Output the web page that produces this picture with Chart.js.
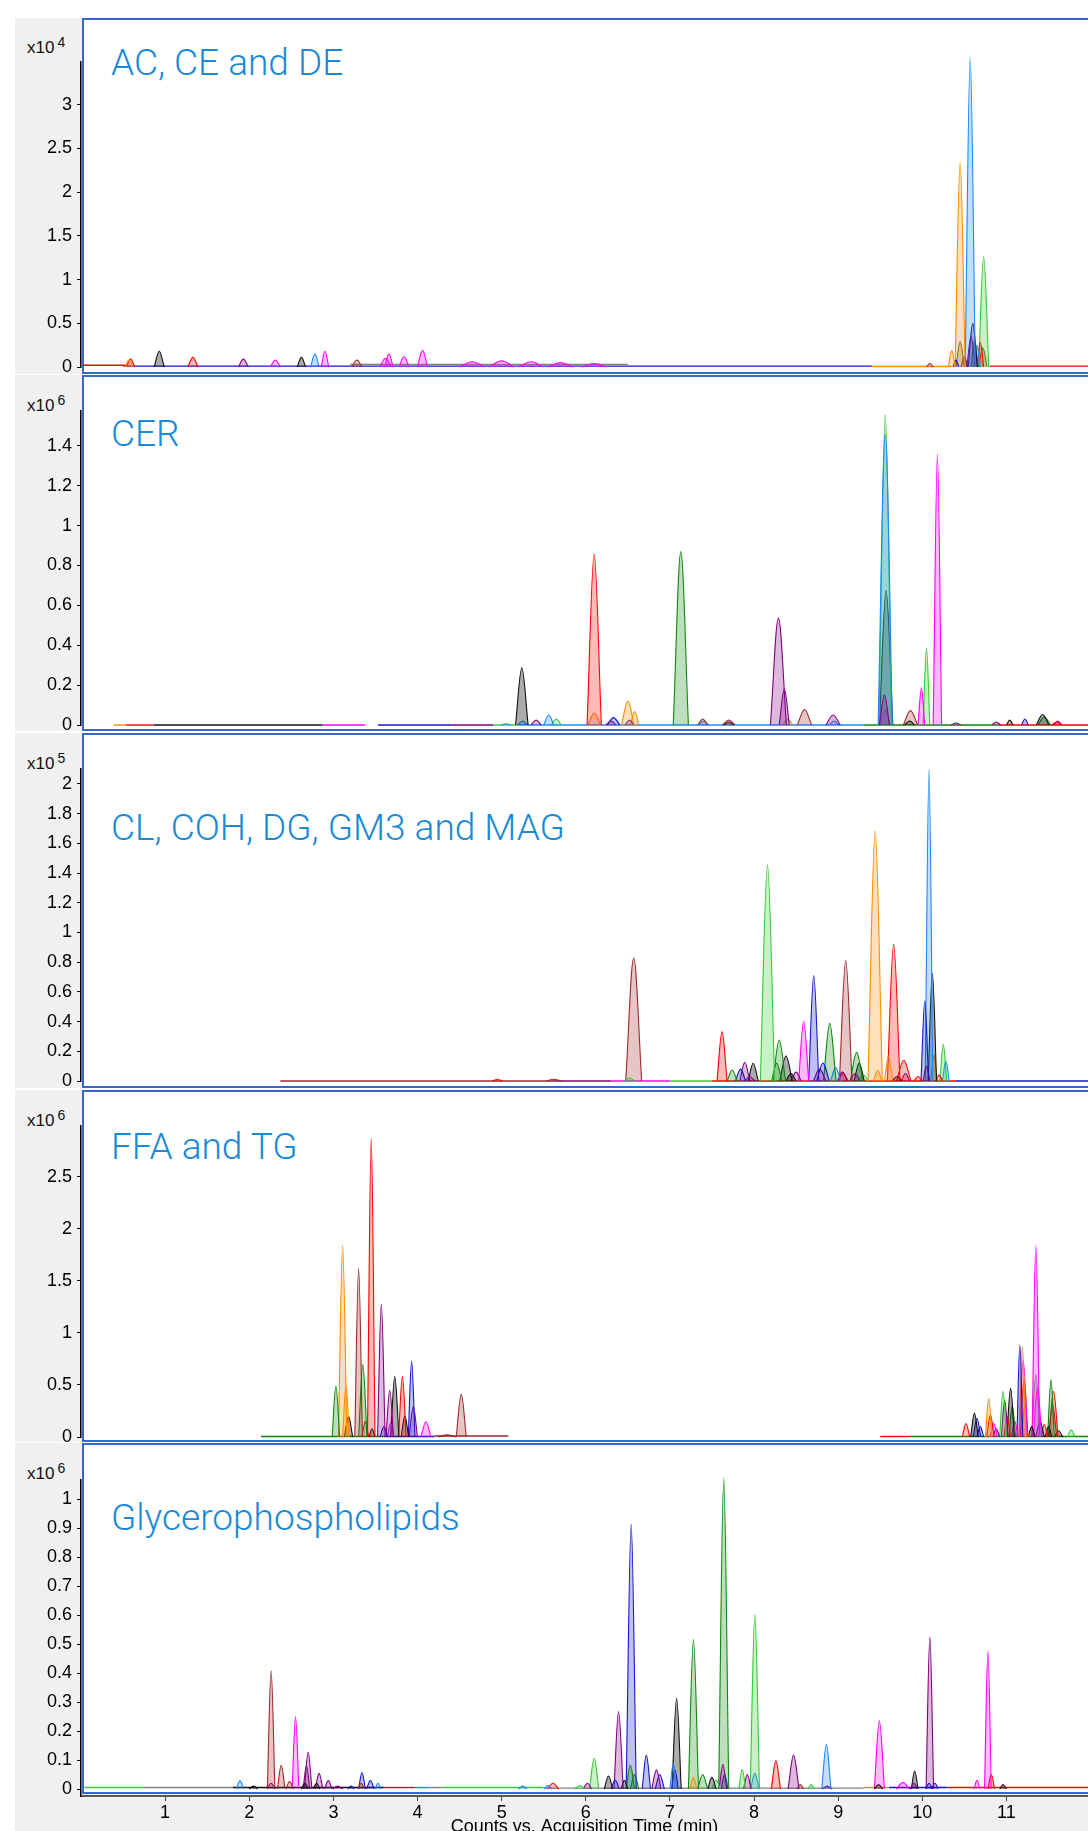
<!DOCTYPE html>
<html>
<head>
<meta charset="utf-8">
<title>Lipid class chromatograms</title>
<script src="https://cdn.jsdelivr.net/npm/chart.js@4.4.1/dist/chart.umd.min.js"></script>
<style>
  html, body { margin: 0; padding: 0; background: #fff; }
  body { position: relative; width: 1088px; height: 1831px; overflow: hidden; }
  .gray { position: absolute; background: #f0f0f0; }
  .plot { position: absolute; background: #fff; box-sizing: border-box; border: 2px solid #3768c8; border-right: none; }
  .title { position: absolute; left: 111px; font: 300 37px/37px Roboto, sans-serif; color: #1a8ad6; white-space: nowrap; }
  .exp { position: absolute; left: 27px; font: 17px/17px 'Liberation Sans', Arial, sans-serif; color: #111; white-space: nowrap; }
  .exp sup { font-size: 14px; vertical-align: 6px; margin-left: 3px; line-height: 0; }
  canvas { position: absolute; left: 14px; }
</style>
</head>
<body>
<script>
// time axis (min), cut at the right edge of the picture
const timeMax = 11.97;

const panelTitles = ['AC, CE and DE', 'CER', 'CL, COH, DG, GM3 and MAG', 'FFA and TG', 'Glycerophospholipids'];
const panelExp = [4, 6, 5, 6, 6];
const panelMax = [3.49, 1.575, 2.1, 2.99, 1.066];
const panelStep = [0.5, 0.2, 0.2, 0.5, 0.1];

// peaks: [retention time, height, base width, trace]
const acPeaks = [
  [0.57, 0.08, 0.10, 'orange'], [0.59, 0.09, 0.10, 'red'], [0.93, 0.18, 0.12, 'black'],
  [1.33, 0.11, 0.12, 'red'], [1.93, 0.09, 0.12, 'purple'], [2.31, 0.08, 0.12, 'magenta'],
  [2.62, 0.11, 0.10, 'black'], [2.78, 0.15, 0.10, 'lblue'], [2.90, 0.18, 0.09, 'magenta'],
  [3.28, 0.08, 0.12, 'brown'], [3.62, 0.10, 0.14, 'magenta'], [3.66, 0.15, 0.10, 'magenta'],
  [3.84, 0.12, 0.12, 'magenta'], [4.06, 0.19, 0.12, 'magenta'], [4.65, 0.06, 0.30, 'magenta'],
  [5.00, 0.07, 0.30, 'magenta'], [5.35, 0.06, 0.30, 'magenta'], [5.70, 0.05, 0.30, 'magenta'],
  [6.10, 0.04, 0.30, 'magenta'], [10.09, 0.04, 0.08, 'brown'], [10.35, 0.19, 0.08, 'orange'],
  [10.40, 0.08, 0.07, 'blue'], [10.45, 2.34, 0.12, 'orange'], [10.45, 0.29, 0.10, 'olive'],
  [10.50, 0.12, 0.08, 'purple'], [10.57, 3.54, 0.12, 'lblue'], [10.58, 0.35, 0.10, 'purple'],
  [10.60, 0.50, 0.11, 'navy'], [10.62, 0.30, 0.08, 'green'], [10.65, 0.25, 0.08, 'lblue'],
  [10.69, 0.28, 0.08, 'red'], [10.72, 0.22, 0.10, 'olive'], [10.73, 1.26, 0.12, 'lime']
];
const cerPeaks = [
  [5.05, 0.006, 0.12, 'lblue'], [5.24, 0.287, 0.15, 'black'], [5.25, 0.02, 0.12, 'lblue'],
  [5.41, 0.025, 0.12, 'purple'], [5.56, 0.05, 0.12, 'lblue'], [5.65, 0.03, 0.12, 'lime'],
  [6.10, 0.858, 0.17, 'red'], [6.10, 0.06, 0.15, 'orange'], [6.30, 0.02, 0.12, 'purple'],
  [6.33, 0.037, 0.15, 'blue'], [6.50, 0.12, 0.15, 'orange'], [6.52, 0.025, 0.10, 'purple'],
  [6.58, 0.067, 0.10, 'orange'], [7.13, 0.87, 0.18, 'green'], [7.39, 0.03, 0.12, 'brown'],
  [7.40, 0.02, 0.12, 'lblue'], [7.70, 0.025, 0.15, 'brown'], [7.70, 0.015, 0.12, 'black'],
  [8.29, 0.537, 0.19, 'purple'], [8.36, 0.18, 0.12, 'purple'], [8.40, 0.03, 0.12, 'orange'],
  [8.60, 0.078, 0.17, 'brown'], [8.94, 0.05, 0.17, 'purple'], [8.95, 0.02, 0.12, 'lblue'],
  [9.55, 0.15, 0.12, 'purple'], [9.56, 1.458, 0.17, 'lblue'], [9.56, 1.557, 0.15, 'lime'],
  [9.56, 0.075, 0.12, 'magenta'], [9.57, 0.675, 0.16, 'black'], [9.85, 0.02, 0.12, 'black'],
  [9.86, 0.072, 0.17, 'brown'], [9.99, 0.187, 0.08, 'magenta'], [10.05, 0.383, 0.08, 'lime'],
  [10.18, 1.358, 0.10, 'magenta'], [10.40, 0.01, 0.12, 'purple'], [10.88, 0.015, 0.10, 'purple'],
  [11.04, 0.025, 0.08, 'black'], [11.22, 0.03, 0.08, 'blue'], [11.43, 0.053, 0.15, 'black'],
  [11.45, 0.04, 0.15, 'green'], [11.60, 0.015, 0.12, 'red'], [11.61, 0.02, 0.10, 'purple']
];
const clPeaks = [
  [4.95, 0.01, 0.12, 'red'], [5.62, 0.012, 0.18, 'brown'], [6.52, 0.02, 0.12, 'lime'],
  [6.57, 0.83, 0.19, 'brown'], [7.62, 0.332, 0.12, 'red'], [7.74, 0.074, 0.12, 'green'],
  [7.84, 0.08, 0.12, 'blue'], [7.89, 0.126, 0.12, 'purple'], [7.95, 0.03, 0.12, 'purple'],
  [7.99, 0.119, 0.12, 'black'], [8.16, 1.455, 0.17, 'lime'], [8.27, 0.12, 0.12, 'green'],
  [8.30, 0.276, 0.15, 'green'], [8.38, 0.17, 0.15, 'black'], [8.44, 0.05, 0.12, 'black'],
  [8.50, 0.06, 0.12, 'purple'], [8.59, 0.40, 0.12, 'magenta'], [8.71, 0.71, 0.12, 'blue'],
  [8.78, 0.08, 0.15, 'purple'], [8.82, 0.12, 0.15, 'blue'], [8.90, 0.388, 0.15, 'green'],
  [8.97, 0.09, 0.12, 'lblue'], [9.05, 0.06, 0.12, 'purple'], [9.06, 0.05, 0.12, 'red'],
  [9.09, 0.81, 0.15, 'brown'], [9.20, 0.05, 0.12, 'purple'], [9.22, 0.193, 0.15, 'green'],
  [9.25, 0.12, 0.12, 'black'], [9.30, 0.04, 0.12, 'lime'], [9.44, 1.686, 0.17, 'orange'],
  [9.47, 0.07, 0.10, 'orange'], [9.60, 0.17, 0.10, 'orange'], [9.66, 0.92, 0.15, 'red'],
  [9.70, 0.03, 0.12, 'black'], [9.78, 0.14, 0.17, 'red'], [9.80, 0.05, 0.10, 'purple'],
  [9.95, 0.03, 0.10, 'red'], [10.03, 0.54, 0.09, 'blue'], [10.05, 0.10, 0.08, 'purple'],
  [10.08, 2.099, 0.09, 'lblue'], [10.12, 0.725, 0.10, 'black'], [10.14, 0.175, 0.08, 'orange'],
  [10.20, 0.04, 0.08, 'red'], [10.25, 0.247, 0.08, 'lime'], [10.28, 0.135, 0.08, 'lblue']
];
const ffaPeaks = [
  [3.03, 0.49, 0.09, 'green'], [3.11, 1.846, 0.10, 'orange'], [3.15, 0.50, 0.08, 'orange'],
  [3.18, 0.20, 0.10, 'black'], [3.30, 1.622, 0.09, 'brown'], [3.35, 0.70, 0.10, 'green'],
  [3.38, 0.15, 0.08, 'red'], [3.45, 2.872, 0.09, 'red'], [3.46, 0.08, 0.07, 'black'],
  [3.57, 1.279, 0.09, 'purple'], [3.60, 0.10, 0.09, 'blue'], [3.67, 0.45, 0.09, 'purple'],
  [3.68, 0.13, 0.08, 'magenta'], [3.73, 0.58, 0.10, 'black'], [3.82, 0.58, 0.09, 'red'],
  [3.85, 0.205, 0.09, 'black'], [3.93, 0.73, 0.08, 'blue'], [3.95, 0.29, 0.10, 'purple'],
  [4.10, 0.147, 0.12, 'magenta'], [4.35, 0.02, 0.22, 'brown'], [4.52, 0.41, 0.12, 'brown'],
  [10.52, 0.13, 0.09, 'red'], [10.62, 0.23, 0.09, 'black'], [10.65, 0.18, 0.09, 'blue'],
  [10.69, 0.10, 0.08, 'blue'], [10.79, 0.37, 0.08, 'orange'], [10.81, 0.21, 0.09, 'red'],
  [10.85, 0.13, 0.09, 'magenta'], [10.88, 0.08, 0.08, 'purple'], [10.96, 0.44, 0.08, 'lime'],
  [10.98, 0.35, 0.08, 'purple'], [11.01, 0.20, 0.08, 'red'], [11.05, 0.47, 0.09, 'black'],
  [11.07, 0.30, 0.08, 'green'], [11.10, 0.15, 0.08, 'magenta'], [11.16, 0.885, 0.07, 'blue'],
  [11.19, 0.87, 0.08, 'orange'], [11.20, 0.74, 0.10, 'magenta'], [11.21, 0.55, 0.09, 'red'],
  [11.22, 0.30, 0.08, 'orange'], [11.30, 0.10, 0.08, 'black'], [11.35, 1.84, 0.09, 'magenta'],
  [11.35, 0.60, 0.10, 'gray'], [11.37, 0.48, 0.10, 'magenta'], [11.40, 0.15, 0.10, 'black'],
  [11.45, 0.12, 0.08, 'red'], [11.50, 0.10, 0.08, 'black'], [11.53, 0.55, 0.08, 'green'],
  [11.55, 0.30, 0.10, 'brown'], [11.56, 0.44, 0.11, 'red'], [11.62, 0.06, 0.10, 'black'],
  [11.77, 0.067, 0.09, 'lime']
];
const gpPeaks = [
  [1.89, 0.028, 0.09, 'lblue'], [2.05, 0.01, 0.10, 'black'], [2.26, 0.408, 0.09, 'brown'],
  [2.26, 0.02, 0.10, 'purple'], [2.38, 0.083, 0.09, 'brown'], [2.48, 0.026, 0.09, 'brown'],
  [2.55, 0.25, 0.08, 'magenta'], [2.66, 0.02, 0.08, 'black'], [2.68, 0.08, 0.08, 'purple'],
  [2.70, 0.127, 0.09, 'purple'], [2.80, 0.02, 0.08, 'black'], [2.83, 0.054, 0.09, 'purple'],
  [2.94, 0.029, 0.09, 'purple'], [3.05, 0.01, 0.12, 'purple'], [3.21, 0.01, 0.08, 'blue'],
  [3.33, 0.02, 0.08, 'brown'], [3.34, 0.057, 0.08, 'blue'], [3.44, 0.029, 0.09, 'blue'],
  [3.53, 0.02, 0.07, 'lblue'], [5.25, 0.01, 0.10, 'lblue'], [5.55, 0.012, 0.10, 'lblue'],
  [5.61, 0.02, 0.14, 'red'], [5.93, 0.012, 0.12, 'lime'], [6.02, 0.02, 0.10, 'purple'],
  [6.10, 0.106, 0.11, 'lime'], [6.27, 0.045, 0.10, 'black'], [6.35, 0.03, 0.10, 'blue'],
  [6.39, 0.267, 0.11, 'purple'], [6.46, 0.03, 0.08, 'black'], [6.53, 0.083, 0.10, 'green'],
  [6.54, 0.914, 0.12, 'blue'], [6.58, 0.05, 0.10, 'green'], [6.72, 0.117, 0.10, 'blue'],
  [6.84, 0.066, 0.11, 'purple'], [6.88, 0.05, 0.11, 'blue'], [7.04, 0.088, 0.08, 'lblue'],
  [7.06, 0.066, 0.08, 'blue'], [7.08, 0.313, 0.11, 'black'], [7.28, 0.04, 0.08, 'orange'],
  [7.28, 0.516, 0.12, 'green'], [7.39, 0.05, 0.12, 'green'], [7.50, 0.04, 0.10, 'black'],
  [7.55, 0.03, 0.10, 'lime'], [7.63, 0.085, 0.09, 'purple'], [7.64, 1.073, 0.12, 'green'],
  [7.65, 0.05, 0.08, 'blue'], [7.86, 0.068, 0.08, 'lime'], [7.92, 0.05, 0.09, 'purple'],
  [8.01, 0.603, 0.11, 'lime'], [8.01, 0.054, 0.10, 'lblue'], [8.26, 0.097, 0.11, 'red'],
  [8.47, 0.117, 0.13, 'purple'], [8.55, 0.015, 0.08, 'brown'], [8.68, 0.015, 0.08, 'lime'],
  [8.86, 0.154, 0.11, 'lblue'], [8.87, 0.01, 0.12, 'purple'], [9.48, 0.015, 0.10, 'black'],
  [9.49, 0.236, 0.12, 'magenta'], [9.77, 0.022, 0.16, 'magenta'], [9.90, 0.02, 0.08, 'purple'],
  [9.91, 0.062, 0.08, 'black'], [10.08, 0.02, 0.08, 'blue'], [10.09, 0.525, 0.09, 'purple'],
  [10.15, 0.02, 0.08, 'blue'], [10.65, 0.03, 0.07, 'magenta'], [10.78, 0.476, 0.08, 'magenta'],
  [10.82, 0.05, 0.08, 'red'], [10.96, 0.015, 0.08, 'black']
];

// flat trace baselines: [from, to, level, trace]
const acBase = [
  [0.02, 0.55, 0.02, 'red'], [0.50, 9.40, 0.01, 'blue'], [3.20, 6.50, 0.03, 'gray'],
  [9.40, 10.35, 0.005, 'orange'], [10.80, 11.97, 0.01, 'red']
];
const cerBase = [
  [0.39, 0.53, 0, 'orange'], [0.53, 0.86, 0, 'red'], [0.86, 2.87, 0, 'black'],
  [2.87, 3.38, 0, 'magenta'], [3.53, 4.40, 0, 'blue'], [4.40, 4.90, 0, 'purple'],
  [4.90, 5.20, 0, 'lime'], [5.20, 9.30, 0, 'lblue'], [9.30, 10.90, 0, 'green'],
  [10.90, 11.97, 0, 'red']
];
const clBase = [
  [2.37, 5.60, 0, 'brown'], [5.60, 6.30, 0, 'purple'], [6.30, 7.00, 0, 'magenta'],
  [7.00, 7.50, 0, 'lime'], [7.50, 10.40, 0, 'red'], [10.40, 11.97, 0, 'blue']
];
const ffaBase = [
  [2.14, 3.60, 0.005, 'green'], [3.60, 4.20, 0.005, 'blue'], [4.20, 5.08, 0.01, 'brown'],
  [9.50, 9.85, 0.005, 'red'], [9.85, 11.97, 0.005, 'green']
];
const gpBase = [
  [0.04, 0.75, 0.005, 'lime'], [0.75, 1.80, 0.005, 'gray'], [1.80, 3.60, 0.005, 'black'],
  [3.60, 3.97, 0.005, 'brown'], [3.97, 4.15, 0.005, 'lblue'], [4.15, 4.30, 0.005, 'gray'],
  [4.30, 5.50, 0.005, 'lime'], [5.50, 9.30, 0.003, 'gray'], [9.30, 9.60, 0.005, 'orange'],
  [9.60, 10.30, 0.005, 'blue'], [10.30, 11.97, 0.005, 'red']
];

const panelPeaks = [acPeaks, cerPeaks, clPeaks, ffaPeaks, gpPeaks];
const panelBase = [acBase, cerBase, clBase, ffaBase, gpBase];

const traceColors = {
  red: '#ff0000', blue: '#1515d0', navy: '#0b0b55', lblue: '#1e88ff', green: '#0a8a0a',
  lime: '#33cc33', orange: '#ff8c00', magenta: '#ff00ff', purple: '#800080', brown: '#a02828',
  black: '#111111', gray: '#808080', olive: '#707000'
};

// page layout of the five stacked panels (px)
const frames = [
  { top: 18, bottom: 374, axisTop: 62, zero: 367, title: 75, exp: 53 },
  { top: 375, bottom: 731, axisTop: 411, zero: 725, title: 446, exp: 411 },
  { top: 733, bottom: 1088, axisTop: 769, zero: 1081, title: 840, exp: 769 },
  { top: 1090, bottom: 1442, axisTop: 1126, zero: 1437, title: 1159, exp: 1126 },
  { top: 1443, bottom: 1794, axisTop: 1480, zero: 1789, title: 1530, exp: 1479 }
];
const xAxisY = 1796;
const xAxisHeight = 42;

const chartFont = "'Liberation Sans', Arial, sans-serif";
Chart.defaults.font.family = chartFont;
Chart.defaults.font.size = 18;
Chart.defaults.color = '#000';
Chart.defaults.animation = false;
Chart.defaults.plugins.legend.display = false;
Chart.defaults.plugins.tooltip.enabled = false;

function rgba(hex, a) {
  const n = parseInt(hex.slice(1), 16);
  return `rgba(${n >> 16}, ${(n >> 8) & 255}, ${n & 255}, ${a})`;
}

function add(cls, box) {
  const d = document.createElement('div');
  d.className = cls;
  Object.keys(box).forEach(k => { d.style[k] = box[k] + 'px'; });
  document.body.appendChild(d);
  return d;
}

function buildDatasets(peaks, base) {
  const sets = peaks.map(([rt, h, w, tr]) => ({
    data: [{ x: rt - w / 2, y: 0 }, { x: rt, y: h }, { x: rt + w / 2, y: 0 }],
    borderColor: traceColors[tr],
    backgroundColor: rgba(traceColors[tr], tr === 'black' ? 0.35 : 0.27),
    borderWidth: 1.1,
    fill: 'origin',
    tension: 0.35,
    pointRadius: 0,
    clip: false
  }));
  // baselines go last so they are drawn underneath
  base.forEach(([a, b, lvl, tr]) => sets.push({
    data: [{ x: a, y: lvl }, { x: b, y: lvl }],
    borderColor: traceColors[tr],
    borderWidth: 1.4,
    fill: false,
    pointRadius: 0,
    clip: false
  }));
  return sets;
}

const fmt = v => String(+v.toFixed(2));

frames.forEach((f, i) => {
  const last = i === frames.length - 1;
  add('gray', { left: 15, top: f.top, width: 1073, height: (last ? 1831 : f.bottom) - f.top });
  add('plot', { left: 82, top: f.top, width: 1020, height: f.bottom - f.top });
  const t = add('title', { top: f.title - 31 });
  t.textContent = panelTitles[i];
  const e = add('exp', { top: f.exp - 14 });
  e.innerHTML = 'x10<sup>' + panelExp[i] + '</sup>';

  const unit = (f.zero - f.axisTop) / panelMax[i];
  const yMin = last ? -(xAxisY - f.zero) / unit : 0;
  const height = last ? xAxisY + xAxisHeight - f.top : f.bottom - f.top;

  const canvas = document.createElement('canvas');
  canvas.width = 1074;
  canvas.height = height;
  canvas.style.top = f.top + 'px';
  canvas.style.width = '1074px';
  canvas.style.height = height + 'px';
  document.body.appendChild(canvas);

  const xScale = last ? {
    type: 'linear', min: 0, max: timeMax,
    afterFit: s => { s.height = xAxisHeight; s.paddingLeft = 0; s.paddingRight = 0; },
    border: { display: true, color: '#5a5a5a', width: 2 },
    grid: { drawOnChartArea: false, drawTicks: true, tickLength: 5, color: '#444' },
    ticks: { stepSize: 1, includeBounds: false, autoSkip: false, maxRotation: 0, padding: 1,
             callback: v => (v === 0 ? null : String(v)) },
    title: { display: true, text: 'Counts vs. Acquisition Time (min)', padding: 0, font: { size: 18 } }
  } : { type: 'linear', min: 0, max: timeMax, display: false };

  new Chart(canvas, {
    type: 'line',
    data: { datasets: buildDatasets(panelPeaks[i], panelBase[i]) },
    options: {
      responsive: false,
      events: [],
      layout: { padding: { top: f.axisTop - f.top, bottom: last ? 0 : f.bottom - f.zero, left: 0, right: 0 } },
      scales: {
        x: xScale,
        y: {
          type: 'linear', min: yMin, max: panelMax[i],
          afterFit: s => { s.width = 67; s.paddingTop = 0; s.paddingBottom = 0; },
          border: { display: true, color: '#000', width: 1.5 },
          grid: { drawOnChartArea: false, drawTicks: true, tickLength: 4, color: '#000' },
          ticks: { stepSize: panelStep[i], includeBounds: false, padding: 5, callback: fmt }
        }
      }
    }
  });
});
</script>
</body>
</html>
